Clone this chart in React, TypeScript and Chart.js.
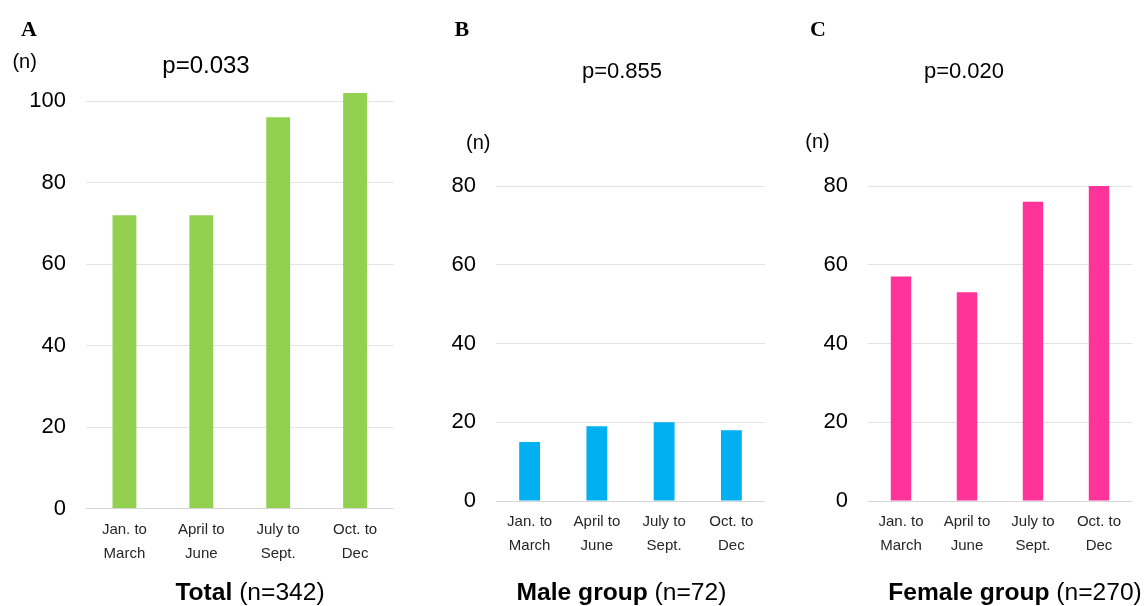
import React, { useEffect, useRef } from "react";
import { Chart, registerables } from "chart.js";

Chart.register(...registerables);

// ---- data ----
const categories: string[][] = [
  ["Jan. to", "March"],
  ["April to", "June"],
  ["July to", "Sept."],
  ["Oct. to", "Dec"],
];
const totalValues = [72, 72, 96, 102];
const maleValues = [15, 19, 20, 18];
const femaleValues = [57, 53, 76, 80];
const totalTicks = [0, 20, 40, 60, 80, 100];
const groupTicks = [0, 20, 40, 60, 80];

const SANS = "'Liberation Sans', Arial, Helvetica, sans-serif";
const SERIF = "'Liberation Serif', 'Times New Roman', serif";
const H = 606;

Chart.defaults.font.family = SANS;

type Area = { left: number; right: number; top: number; bottom: number };

function BarPanel(props: {
  x: number;
  w: number;
  area: Area;
  values: number[];
  ticks: number[];
  color: string;
}) {
  const ref = useRef<HTMLCanvasElement>(null);
  const { x, w, area, values, ticks, color } = props;
  useEffect(() => {
    const axisMax = Math.max(ticks[ticks.length - 1], ...values);
    const chart = new Chart(ref.current as HTMLCanvasElement, {
      type: "bar",
      data: {
        labels: categories,
        datasets: [
          {
            data: values,
            backgroundColor: color,
            borderWidth: 0,
            barPercentage: 0.31,
            categoryPercentage: 1,
          },
        ],
      },
      options: {
        animation: false,
        responsive: false,
        maintainAspectRatio: false,
        devicePixelRatio: 1,
        layout: {
          padding: { left: 0, top: area.top, right: w - area.right, bottom: 0 },
        },
        plugins: {
          legend: { display: false },
          tooltip: { enabled: false },
          title: { display: false },
        },
        scales: {
          x: {
            grid: { display: false, drawTicks: false },
            border: { display: false },
            ticks: {
              font: { family: SANS, size: 15, lineHeight: 1.6 },
              color: "#262626",
              padding: 9,
              maxRotation: 0,
              minRotation: 0,
              autoSkip: false,
            },
            afterFit: (s: any) => {
              s.height = H - area.bottom;
            },
          },
          y: {
            min: ticks[0],
            max: axisMax,
            ticks: {
              stepSize: ticks[1] - ticks[0],
              includeBounds: false,
              font: { family: SANS, size: 22 },
              color: "#000000",
              padding: 20,
            },
            grid: {
              drawTicks: false,
              color: (ctx: any) =>
                ctx.tick && ctx.tick.value === 0 ? "#d6d6d6" : "#e3e3e3",
              lineWidth: 1,
            },
            border: { display: false },
            afterFit: (s: any) => {
              s.width = area.left;
            },
          },
        },
      },
    });
    return () => chart.destroy();
  }, []);
  return (
    <canvas
      ref={ref}
      width={w}
      height={H}
      style={{ position: "absolute", left: x, top: 0, width: w, height: H }}
    />
  );
}

function Txt(props: {
  cx?: number;
  left?: number;
  baseline: number;
  size: number;
  serif?: boolean;
  children: React.ReactNode;
}) {
  const { cx, left, baseline, size, serif, children } = props;
  const top = baseline - (serif ? 0.8375 : 0.8465) * size;
  const style: React.CSSProperties = {
    position: "absolute",
    top,
    fontFamily: serif ? SERIF : SANS,
    fontSize: size,
    lineHeight: `${size}px`,
    whiteSpace: "nowrap",
    color: "#000",
  };
  if (cx !== undefined) {
    style.left = cx;
    style.transform = "translateX(-50%)";
  } else {
    style.left = left;
  }
  return <div style={style}>{children}</div>;
}

export default function App() {
  return (
    <div
      style={{
        position: "absolute",
        left: 0,
        top: 0,
        width: 1147,
        height: H,
        background: "#ffffff",
        overflow: "hidden",
      }}
    >
      <BarPanel
        x={0}
        w={420}
        area={{ left: 86, right: 393.5, top: 92.9, bottom: 508.5 }}
        values={totalValues}
        ticks={totalTicks}
        color="#92D050"
      />
      <BarPanel
        x={420}
        w={360}
        area={{ left: 76, right: 345, top: 186, bottom: 501 }}
        values={maleValues}
        ticks={groupTicks}
        color="#00B0F0"
      />
      <BarPanel
        x={780}
        w={367}
        area={{ left: 88, right: 352, top: 186, bottom: 501 }}
        values={femaleValues}
        ticks={groupTicks}
        color="#FF3399"
      />

      <Txt left={21} baseline={36} size={22} serif>
        <b>A</b>
      </Txt>
      <Txt left={454.5} baseline={36} size={22} serif>
        <b>B</b>
      </Txt>
      <Txt left={810} baseline={36} size={22} serif>
        <b>C</b>
      </Txt>

      <Txt cx={24.7} baseline={67.8} size={20}>(n)</Txt>
      <Txt cx={478.3} baseline={149} size={20}>(n)</Txt>
      <Txt cx={817.5} baseline={148} size={20}>(n)</Txt>

      <Txt cx={206} baseline={73.3} size={24}>p=0.033</Txt>
      <Txt cx={622} baseline={78.3} size={22}>p=0.855</Txt>
      <Txt cx={964} baseline={78.3} size={22}>p=0.020</Txt>

      <Txt cx={250} baseline={601} size={24.6}>
        <b>Total</b> (n=342)
      </Txt>
      <Txt cx={621.5} baseline={601} size={24.6}>
        <b>Male group</b> (n=72)
      </Txt>
      <Txt cx={1015} baseline={601} size={24.6}>
        <b>Female group</b> (n=270)
      </Txt>
    </div>
  );
}
